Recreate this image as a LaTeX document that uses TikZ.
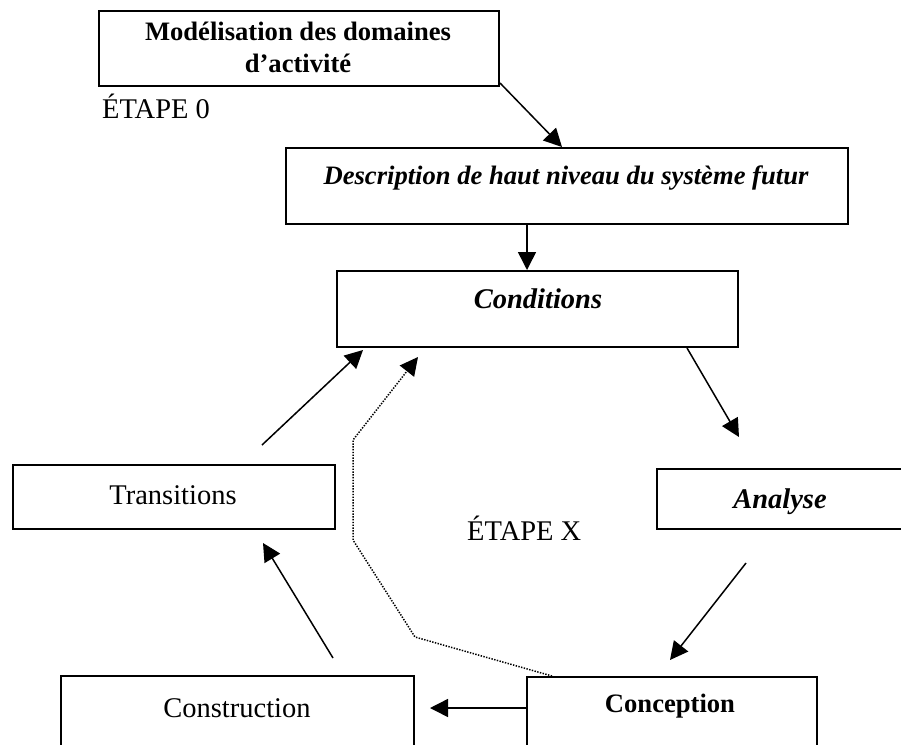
\documentclass[tikz,border=0pt]{standalone}
\usepackage{fontspec}
\setmainfont{Liberation Serif}
\usetikzlibrary{arrows.meta,calc}
\begin{document}
\begin{tikzpicture}[x=1pt,y=-1pt,
  box/.style={draw,line width=1.6pt,rectangle,inner sep=0pt,anchor=north west},
  big/.style={font=\fontsize{28.5}{33}\selectfont,inner sep=0pt,anchor=base},
  small/.style={font=\fontsize{26.6}{32}\selectfont,inner sep=0pt,anchor=base},
  link/.style={line width=1.5pt,-{Triangle[length=18pt,width=18pt]}},
  back/.style={line width=1.5pt,dash pattern=on 1.4pt off 1.4pt,-{Triangle[length=18pt,width=18pt]}}]
\useasboundingbox (0,0) rectangle (901,744);

% boxes
\node[box,minimum width=400,minimum height=75] (model) at (98,10) {};
\node[box,minimum width=562,minimum height=76] (desc) at (285,147) {};
\node[box,minimum width=401,minimum height=76] (cond) at (336,270) {};
\node[box,minimum width=322,minimum height=64] (trans) at (12,464) {};
\node[box,minimum width=250,minimum height=60] (analyse) at (656,468) {};
\node[box,minimum width=353,minimum height=90] (constr) at (60,675) {};
\node[box,minimum width=290,minimum height=90] (concep) at (526,676) {};

% texts
\node[small,font=\fontsize{26.6}{32}\selectfont\bfseries,align=center,anchor=north] (modeltxt) at (298,22)
  {Modélisation des domaines\\d’activité};
\node[big,anchor=base west] (etape0) at (102,118) {ÉTAPE 0};
\node[small,font=\fontsize{26.6}{32}\selectfont\bfseries\itshape] (desctxt) at (566,184)
  {Description de haut niveau du système futur};
\node[big,font=\fontsize{28.5}{33}\selectfont\bfseries\itshape] (condtxt) at (538,308) {Conditions};
\node[big] (transtxt) at (173,504) {Transitions};
\node[big,font=\fontsize{28.5}{33}\selectfont\bfseries\itshape] (analysetxt) at (780,508) {Analyse};
\node[big,anchor=base west] (etapex) at (467,540) {ÉTAPE X};
\node[big] (constrtxt) at (237,717) {Construction};
\node[small,font=\fontsize{26.6}{32}\selectfont\bfseries] (conceptxt) at (670,712) {Conception};

% free ends of the connectors
\coordinate (a1) at (500,83);   \coordinate (b1) at (562,147);
\coordinate (a3) at (687,348);  \coordinate (b3) at (739,437);
\coordinate (a4) at (746,563);  \coordinate (b4) at (670,660);
\coordinate (b5) at (430,708);
\coordinate (a6) at (333,658);  \coordinate (b6) at (263,543);
\coordinate (a7) at (262,445);  \coordinate (b7) at (363,350);
\coordinate (d1) at (552,676);  \coordinate (d2) at (415,637);
\coordinate (d3) at (353,540);  \coordinate (d4) at (353,440);
\coordinate (b8) at (418,357);

% connectors
\draw[link] (a1) -- (b1);
\draw[link] (desc.south -| 527,0) -- (cond.north -| 527,0);
\draw[link] (a3) -- (b3);
\draw[link] (a4) -- (b4);
\draw[link] (concep.west |- 0,708) -- (b5);
\draw[link] (a6) -- (b6);
\draw[link] (a7) -- (b7);
\draw[back] (d1) -- (d2) -- (d3) -- (d4) -- (b8);
\end{tikzpicture}
\end{document}
